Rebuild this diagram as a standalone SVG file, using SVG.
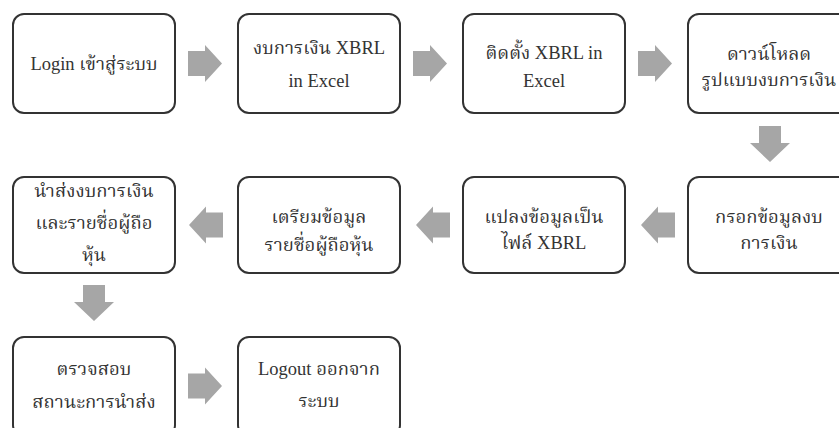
<svg xmlns="http://www.w3.org/2000/svg" width="839" height="428" viewBox="0 0 839 428">
<style>
.box{fill:#fff;stroke:#333;stroke-width:2}
.arr{fill:#a6a6a6}
text{font-family:"Liberation Serif","Noto Serif Thai","Noto Sans Thai","DejaVu Serif",serif;font-size:18.5px;fill:#333;text-anchor:middle}
</style>
<defs>
<path id="ar" d="M0,-12.5 H17 V-18.5 L34,0 L17,18.5 V12.5 H0 Z"/>
<path id="al" d="M0,-12.5 H-17 V-18.5 L-34,0 L-17,18.5 V12.5 H0 Z"/>
<path id="ad" d="M-11,0 V17 H-20 L0,36 L20,17 H11 V0 Z"/>
</defs>
<g id="connectors" class="arr">
<use href="#ar" x="188" y="63.5"/>
<use href="#ar" x="413" y="63.5"/>
<use href="#ar" x="638" y="63.5"/>
<use href="#ad" x="770" y="126"/>
<use href="#al" x="675" y="225"/>
<use href="#al" x="450" y="225"/>
<use href="#al" x="223" y="225"/>
<use href="#ad" x="94" y="285"/>
<use href="#ar" x="188" y="386"/>
</g>
<g id="n1"><rect class="box" x="13" y="14" width="162" height="99" rx="11"/><text x="94" y="70">Login เข้าสู่ระบบ</text></g>
<g id="n2"><rect class="box" x="238" y="14" width="162" height="99" rx="11"/><text x="319" y="54">งบการเงิน XBRL</text><text x="319" y="87">in Excel</text></g>
<g id="n3"><rect class="box" x="463" y="14" width="162" height="99" rx="11"/><text x="544" y="59">ติดตั้ง XBRL in</text><text x="544" y="87">Excel</text></g>
<g id="n4"><rect class="box" x="688" y="14" width="162" height="99" rx="11"/><text x="769" y="60">ดาวน์โหลด</text><text x="769" y="86">รูปแบบงบการเงิน</text></g>
<g id="n5"><rect class="box" x="688" y="177" width="162" height="96" rx="11"/><text x="769" y="223">กรอกข้อมูลงบ</text><text x="769" y="249">การเงิน</text></g>
<g id="n6"><rect class="box" x="463" y="177" width="162" height="96" rx="11"/><text x="544" y="223">แปลงข้อมูลเป็น</text><text x="544" y="249">ไฟล์ XBRL</text></g>
<g id="n7"><rect class="box" x="238" y="177" width="162" height="96" rx="11"/><text x="319" y="223">เตรียมข้อมูล</text><text x="319" y="251">รายชื่อผู้ถือหุ้น</text></g>
<g id="n8"><rect class="box" x="13" y="177" width="162" height="96" rx="11"/><text x="94" y="197">นำส่งงบการเงิน</text><text x="94" y="229">และรายชื่อผู้ถือ</text><text x="94" y="261">หุ้น</text></g>
<g id="n9"><rect class="box" x="13" y="337" width="162" height="99" rx="11"/><text x="94" y="375">ตรวจสอบ</text><text x="94" y="408">สถานะการนำส่ง</text></g>
<g id="n10"><rect class="box" x="238" y="337" width="162" height="99" rx="11"/><text x="319" y="375">Logout ออกจาก</text><text x="319" y="407">ระบบ</text></g>
</svg>
